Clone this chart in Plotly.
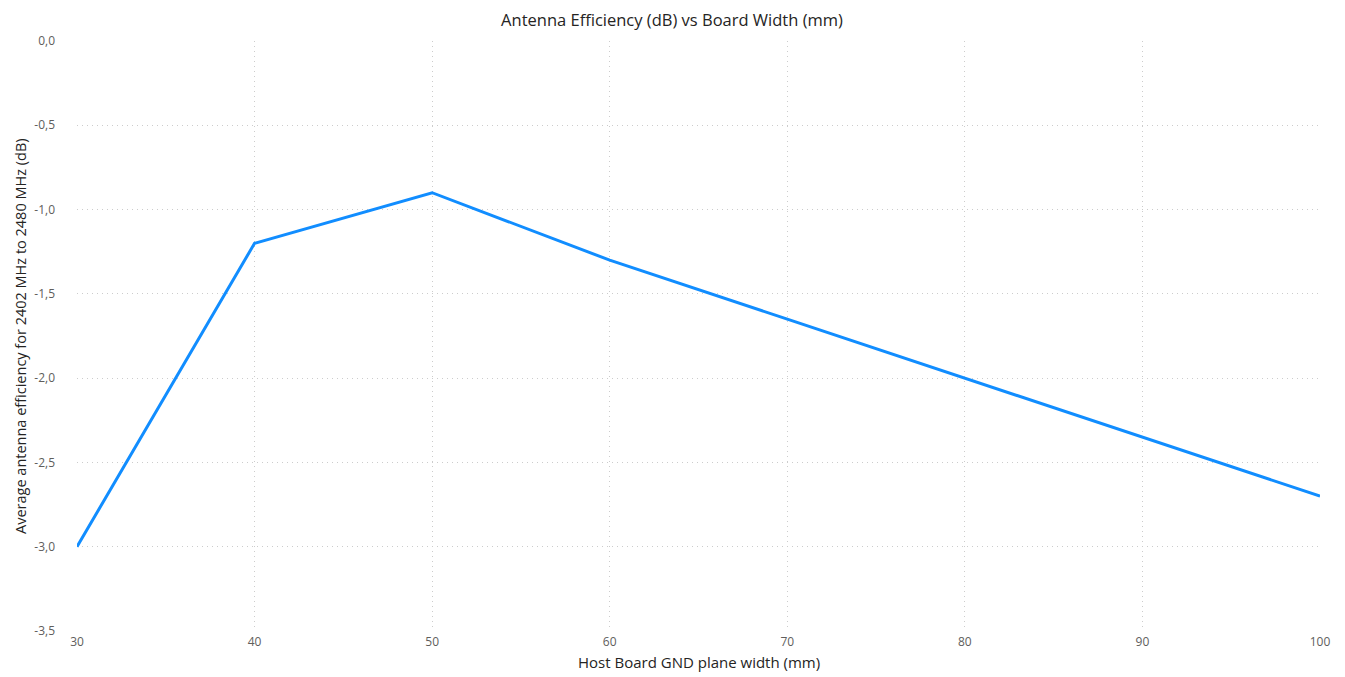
import plotly.graph_objects as go

board_width_mm = [30, 40, 50, 60, 70, 80, 90, 100]
efficiency_db = [-3.0, -1.2, -0.9, -1.3, -1.65, -2.0, -2.35, -2.7]
y_ticks = [0.0, -0.5, -1.0, -1.5, -2.0, -2.5, -3.0, -3.5]
y_tick_labels = ["0,0", "-0,5", "-1,0", "-1,5", "-2,0", "-2,5", "-3,0", "-3,5"]
x_ticks = [30, 40, 50, 60, 70, 80, 90, 100]

FONT = "Segoe UI, Open Sans, sans-serif"
GRID = "#CCCCCC"

fig = go.Figure()
fig.add_trace(go.Scatter(
    x=board_width_mm, y=efficiency_db, mode="lines",
    line=dict(color="#118DFF", width=3), showlegend=False,
    hoverinfo="x+y",
))

fig.update_layout(
    width=1345, height=677,
    margin=dict(l=69, r=33, t=33, b=54, autoexpand=False),
    paper_bgcolor="white", plot_bgcolor="white",
    separators=",.",
    font=dict(family=FONT, color="#252423"),
    title=dict(text="Antenna Efficiency (dB) vs Board Width (mm)",
               x=0.4937, xanchor="center", y=0.9825, yanchor="middle",
               font=dict(family=FONT, size=16.5, color="#252423")),
    annotations=[
        dict(text="Host Board GND plane width (mm)", xref="paper", yref="paper",
             x=0.5, y=0, xanchor="center", yanchor="middle",
             yshift=-31, showarrow=False,
             font=dict(family=FONT, size=15, color="#252423")),
        dict(text="Average antenna efficiency for 2402 MHz to 2480 MHz (dB)",
             xref="paper", yref="paper", x=0, xshift=-57, y=0.5,
             xanchor="center", yanchor="middle", textangle=-90, showarrow=False,
             font=dict(family=FONT, size=14.5, color="#252423")),
    ],
)
fig.update_xaxes(
    range=[30, 100], tickvals=x_ticks, ticktext=[str(v) for v in x_ticks],
    showgrid=True, gridcolor=GRID, griddash="1px,4px", gridwidth=1,
    zeroline=False, showline=False, ticks="", automargin=False,
    tickfont=dict(family=FONT, size=12, color="#605E5C"),
    ticklabelstandoff=2,
)
fig.update_yaxes(
    range=[-3.5, 0], tickvals=y_ticks, ticktext=y_tick_labels,
    showgrid=True, gridcolor=GRID, griddash="1px,4px", gridwidth=1,
    zeroline=False, showline=False, ticks="", automargin=False,
    tickfont=dict(family=FONT, size=12, color="#605E5C"),
    ticklabelstandoff=21,
)

fig.write_html("out.html")
